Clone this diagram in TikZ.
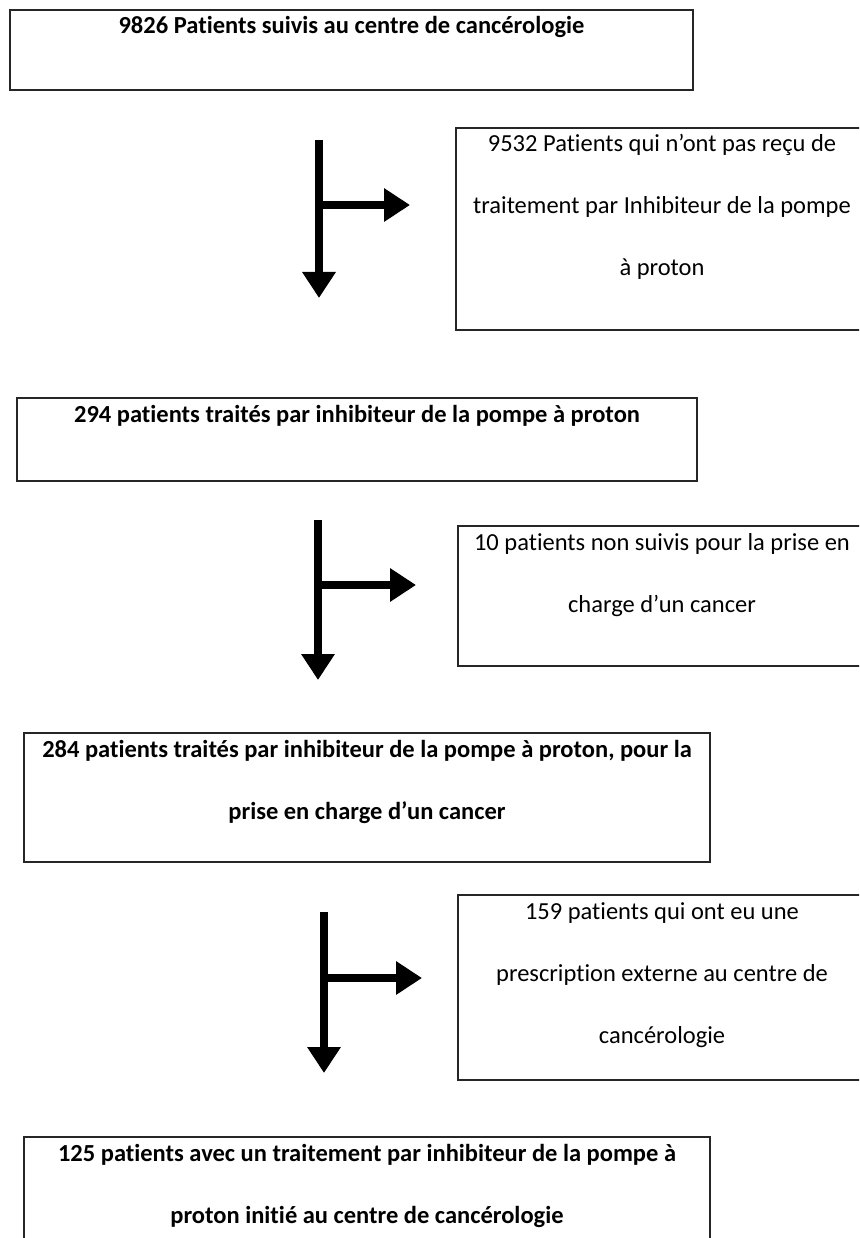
\documentclass[tikz,border=0pt]{standalone}
\usepackage{fontspec}
\setmainfont{Carlito}[Ligatures={NoCommon}]
\usetikzlibrary{arrows.meta}
\newcommand\lfont{\fontsize{24.5}{62}\selectfont\bfseries}
\newcommand\rfont{\fontsize{24.5}{62}\selectfont}
\newcommand\firstline{\vspace*{4pt}\rule{0pt}{20pt}}
\begin{document}
\begin{tikzpicture}[x=1pt,y=-1pt,
  box/.style={draw=black!85, line width=1.4pt, rectangle, inner sep=0pt, outer sep=0pt, anchor=north west},
  flow/.style={line width=8pt, -{Triangle[length=26pt,width=32pt]}}]
\useasboundingbox (0,0) rectangle (859,1238);
\clip (0,0) rectangle (859,1238);
\fill[white] (0,0) rectangle (859,1238);

\node[box] (b1) at (10,10) {\parbox[c][80pt][t]{683pt}{\centering\lfont\firstline 9826 Patients suivis au centre de cancérologie\par}};
\node[box] (b2) at (456,128) {\parbox[c][202pt][t]{412pt}{\centering\rfont\firstline 9532 Patients qui n’ont pas reçu de\\traitement par Inhibiteur de la pompe\\à proton\par}};
\node[box] (b3) at (17,398) {\parbox[c][83pt][t]{680pt}{\centering\lfont\firstline 294 patients traités par inhibiteur de la pompe à proton\par}};
\node[box] (b4) at (458,526) {\parbox[c][140pt][t]{408pt}{\centering\rfont\firstline 10 patients non suivis pour la prise en\\charge d’un cancer\par}};
\node[box] (b5) at (24,733) {\parbox[c][129pt][t]{686pt}{\centering\lfont\firstline 284 patients traités par inhibiteur de la pompe à proton, pour la\\prise en charge d’un cancer\par}};
\node[box] (b6) at (458,895) {\parbox[c][185pt][t]{408pt}{\centering\rfont\firstline 159 patients qui ont eu une\\prescription externe au centre de\\cancérologie\par}};
\node[box] (b7) at (24,1137) {\parbox[c][133pt][t]{686pt}{\centering\lfont\firstline 125 patients avec un traitement par inhibiteur de la pompe à\\proton initié au centre de cancérologie\par}};

\coordinate (a1s) at (319,140); \coordinate (a1e) at (319,298);
\coordinate (a1m) at (319,205); \coordinate (a1h) at (410,205);
\draw[flow] (a1s) -- (a1e);
\draw[flow] (a1m) -- (a1h);

\coordinate (a2s) at (318,520); \coordinate (a2e) at (318,680);
\coordinate (a2m) at (318,585); \coordinate (a2h) at (416,585);
\draw[flow] (a2s) -- (a2e);
\draw[flow] (a2m) -- (a2h);

\coordinate (a3s) at (324,912); \coordinate (a3e) at (324,1073);
\coordinate (a3m) at (324,978); \coordinate (a3h) at (422,978);
\draw[flow] (a3s) -- (a3e);
\draw[flow] (a3m) -- (a3h);
\end{tikzpicture}
\end{document}
